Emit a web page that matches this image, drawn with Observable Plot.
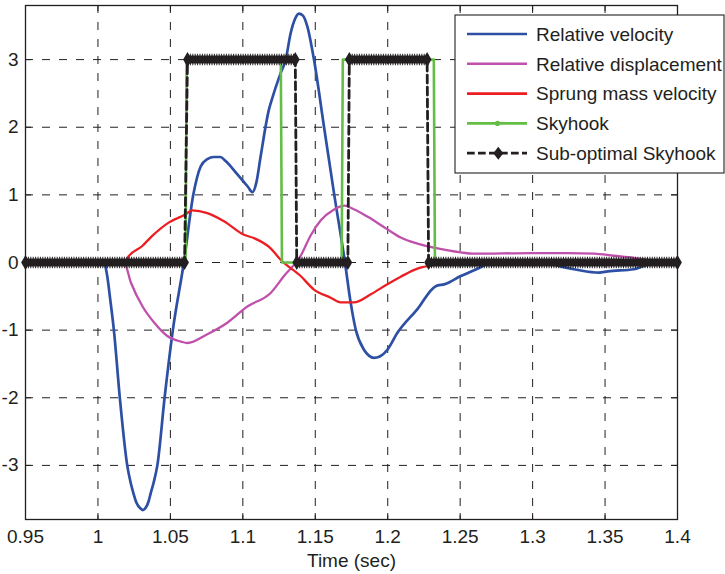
<!DOCTYPE html>
<html><head><meta charset="utf-8">
<script src="https://cdn.jsdelivr.net/npm/d3@7"></script>
<script src="https://cdn.jsdelivr.net/npm/@observablehq/plot@0.6"></script>
<style>
body{margin:0;background:#fff;}
#chart{position:relative;width:725px;height:574px;}
</style></head><body><div id="chart"></div>
<script>
// ---- axis ticks ----
const xTicks = [0.95, 1, 1.05, 1.1, 1.15, 1.2, 1.25, 1.3, 1.35, 1.4];
const xTickLabels = ["0.95", "1", "1.05", "1.1", "1.15", "1.2", "1.25", "1.3", "1.35", "1.4"];
const yTicks = [-3, -2, -1, 0, 1, 2, 3];
const yTickLabels = ["-3", "-2", "-1", "0", "1", "2", "3"];
const xLabel = "Time (sec)";

// ---- series names ----
const seriesNames = ["Relative velocity", "Relative displacement", "Sprung mass velocity", "Skyhook", "Sub-optimal Skyhook"];

// ---- Relative velocity ----
const relT = [0.95,1.0,1.0041,1.0064,1.0085,1.011,1.0151,1.0202,1.0225,1.0246,1.0265,1.0295,1.031,1.0325,1.035,1.0363,1.0385,1.041,1.046,1.0517,1.0593,1.0658,1.0709,1.0755,1.08,1.0845,1.0881,1.0964,1.1035,1.1066,1.1095,1.1123,1.118,1.1206,1.1261,1.1296,1.133,1.136,1.1387,1.1415,1.1445,1.1491,1.156,1.1629,1.1705,1.1744,1.1779,1.1836,1.1872,1.1905,1.1945,1.1998,1.2067,1.2205,1.2331,1.2394,1.2504,1.2631,1.2711,1.2988,1.3285,1.3457,1.3519,1.3699,1.3768,1.385,1.4];
const relV = [0,0,0,-0.2,-0.55,-1.0,-2.0,-3.0,-3.25,-3.42,-3.55,-3.64,-3.66,-3.64,-3.53,-3.42,-3.25,-3.0,-2.0,-1.0,0,1.0,1.42,1.53,1.56,1.56,1.5,1.3,1.12,1.04,1.2,1.57,2.26,2.45,2.8,3.0,3.39,3.6,3.68,3.65,3.49,3.0,2.01,1.03,0,-0.59,-0.99,-1.29,-1.38,-1.41,-1.39,-1.29,-1.04,-0.69,-0.35,-0.32,-0.2,-0.08,0,0.02,-0.1,-0.15,-0.13,-0.1,-0.05,0,0];

// ---- Relative displacement ----
const dispT = [0.95,1.018,1.0228,1.0308,1.0389,1.0481,1.0574,1.0617,1.0755,1.0893,1.1031,1.1192,1.1284,1.1399,1.1468,1.1537,1.1627,1.1703,1.1744,1.1859,1.1998,1.2089,1.2205,1.232,1.2504,1.2597,1.2988,1.3241,1.3425,1.3561,1.3699,1.3793,1.39,1.4];
const dispV = [0,0,-0.3,-0.65,-0.89,-1.09,-1.17,-1.19,-1.06,-0.89,-0.65,-0.45,-0.2,0.1,0.4,0.62,0.78,0.84,0.81,0.68,0.49,0.37,0.28,0.22,0.15,0.13,0.14,0.14,0.13,0.1,0.07,0.04,0.01,0];

// ---- Sprung mass velocity ----
const smT = [0.95,1.0185,1.0211,1.0304,1.0373,1.0488,1.0603,1.0651,1.0755,1.087,1.1008,1.1077,1.1192,1.1261,1.1399,1.1491,1.1606,1.1675,1.1767,1.1883,1.1998,1.209,1.2205,1.232,1.2435,1.4];
const smV = [0,0,0.09,0.24,0.39,0.59,0.71,0.77,0.73,0.61,0.41,0.36,0.21,0.04,-0.2,-0.4,-0.52,-0.59,-0.59,-0.47,-0.32,-0.21,-0.09,-0.04,0,0];

// ---- Skyhook ----
const skyT = [0.95,1.0605,1.0612,1.1262,1.1270,1.1682,1.1690,1.2318,1.2326,1.4];
const skyV = [0,0,3,3,0,0,3,3,0,0];

// ---- Sub-optimal Skyhook ----
const subT = [0.95,1.0598,1.0618,1.1362,1.1372,1.1725,1.1735,1.2272,1.2282,1.4];
const subV = [0,0,3,3,0,0,3,3,0,0];

// ---- style ----
const ink = "#231f20";
const colors = ["#2d50a5", "#bf50ab", "#eb1e23", "#64be46", ink];
const font = "'Liberation Sans', Arial, Helvetica, sans-serif";
const W = 725, H = 574, mL = 25, mR = 48, mT = 5, mB = 55;
const innerW = W - mL - mR, innerH = H - mT - mB;
const tickLen = 6;

const rows = (t, v) => t.map((d, i) => ({t: d, v: v[i]}));
const rel = rows(relT, relV), disp = rows(dispT, dispV), sm = rows(smT, smV), sky = rows(skyT, skyV), sub = rows(subT, subV);
const subSegs = [];
for (let i = 0; i < subT.length - 1; i++) if (subV[i] === subV[i + 1]) subSegs.push({x1: subT[i], x2: subT[i + 1], y: subV[i]});
const subEnds = subSegs.flatMap(s => [{t: s.x1, v: s.y}, {t: s.x2, v: s.y}]);

const gridStyle = {stroke: ink, strokeOpacity: 1, strokeWidth: 1, strokeDasharray: "8,9"};

const plot = Plot.plot({
  width: W, height: H, marginLeft: mL, marginRight: mR, marginTop: mT, marginBottom: mB,
  style: {fontFamily: font, fontSize: "19px", color: ink, background: "white", overflow: "visible"},
  x: {domain: [0.95, 1.4]},
  y: {domain: [-3.8, 3.8]},
  marks: [
    Plot.gridX(xTicks.slice(1, -1), gridStyle),
    Plot.gridY(yTicks, gridStyle),
    Plot.ruleX(xTicks, {x: d => d, stroke: ink, strokeWidth: 1, insetTop: innerH - tickLen}),
    Plot.ruleX(xTicks, {x: d => d, stroke: ink, strokeWidth: 1, insetBottom: innerH - tickLen}),
    Plot.ruleY(yTicks, {y: d => d, stroke: ink, strokeWidth: 1, insetRight: innerW - tickLen}),
    Plot.ruleY(yTicks, {y: d => d, stroke: ink, strokeWidth: 1, insetLeft: innerW - tickLen}),
    Plot.line(rel, {x: "t", y: "v", stroke: colors[0], strokeWidth: 2.7, curve: "monotone-x"}),
    Plot.line(disp, {x: "t", y: "v", stroke: colors[1], strokeWidth: 2.3, curve: "monotone-x"}),
    Plot.line(sm, {x: "t", y: "v", stroke: colors[2], strokeWidth: 2.3, curve: "monotone-x"}),
    Plot.line(sky, {x: "t", y: "v", stroke: colors[3], strokeWidth: 2.6}),
    Plot.line(sub, {x: "t", y: "v", stroke: ink, strokeWidth: 2.8, strokeDasharray: "8,4"}),
    Plot.link(subSegs, {x1: "x1", x2: "x2", y1: "y", y2: "y", stroke: ink, strokeWidth: 8, strokeLinecap: "butt"}),
    Plot.link(subSegs, {x1: "x1", x2: "x2", y1: "y", y2: "y", stroke: ink, strokeWidth: 11.5, strokeDasharray: "1,1.4", strokeLinecap: "butt"}),
    Plot.dot(subEnds, {x: "t", y: "v", symbol: "diamond", r: 4.6, fill: ink, stroke: null}),
    Plot.frame({stroke: ink, strokeWidth: 1.3}),
    Plot.axisX(xTicks, {tickSize: 0, tickPadding: 10, label: null, fontSize: 19, tickFormat: d => xTickLabels[xTicks.indexOf(d)]}),
    Plot.axisY(yTicks, {tickSize: 0, tickPadding: 7, label: null, fontSize: 19, tickFormat: d => yTickLabels[yTicks.indexOf(d)]}),
    Plot.text([xLabel], {text: d => d, frameAnchor: "bottom", dy: 47, fontSize: 19, fill: ink})
  ]
});

// ---- legend ----
const svg = d3.select(plot);
const lg = svg.append("g").attr("font-family", font).attr("font-size", 19).attr("fill", ink).attr("text-anchor", "start");
lg.append("rect").attr("x", 455).attr("y", 15).attr("width", 269).attr("height", 158)
  .attr("fill", "white").attr("stroke", ink).attr("stroke-width", 1.1);
seriesNames.forEach((name, i) => {
  const y = 34 + 29.8 * i;
  const line = lg.append("line").attr("x1", 467).attr("x2", 527).attr("y1", y).attr("y2", y)
    .attr("stroke", colors[i]).attr("stroke-width", i === 4 ? 2.8 : 2.6);
  if (i === 4) line.attr("stroke-dasharray", "7.7,3.3");
  if (i === 3) lg.append("circle").attr("cx", 497.5).attr("cy", y).attr("r", 2.6).attr("fill", colors[3]);
  if (i === 4) lg.append("path").attr("d", `M498.3,${y - 6.5}L503.3,${y}L498.3,${y + 6.5}L493.3,${y}Z`).attr("fill", ink);
  lg.append("text").attr("x", 536).attr("y", y + 6.8).attr("text-anchor", "start").text(name);
});

document.getElementById("chart").appendChild(plot);
</script>
</body></html>
